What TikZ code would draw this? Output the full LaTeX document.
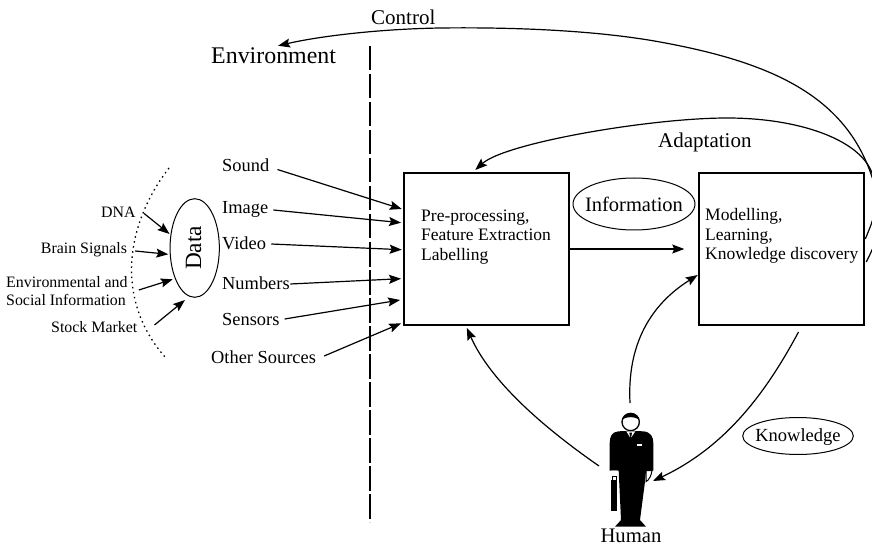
\documentclass[tikz,border=0pt]{standalone}
\usepackage{fontspec}
\setmainfont{Liberation Serif}
\usetikzlibrary{arrows.meta,shapes.geometric}
\tikzset{
	lab/.style={inner sep=0pt,anchor=west,font=\fontsize{18.4}{22}\selectfont},
	srclab/.style={inner sep=0pt,anchor=west,align=left,font=\fontsize{15.9}{18}\selectfont},
	bigbox/.style={draw,line width=2pt,minimum width=164.5pt,minimum height=152pt,inner sep=0pt,outer sep=0pt},
	boxtxt/.style={inner sep=0pt,anchor=west,align=left,font=\fontsize{17.5}{19.2}\selectfont},
	oval/.style={draw,ellipse,line width=1pt,inner sep=0pt,outer sep=0pt},
	arr/.style={line width=1.2pt,-{Stealth[length=12pt,width=9pt,inset=2pt]}},
}
\begin{document}
\begin{tikzpicture}[x=1pt,y=-1pt]
		\useasboundingbox (0,0) rectangle (872,545);
		\clip (0,0) rectangle (872,545);
		
		% Blocos principais
		\node[bigbox] (prep) at (486.3,249) {};
		\node[bigbox] (model) at (781.5,249) {};
		\node[boxtxt] (preptxt) at (421,237) {Pre-processing,\\Feature Extraction\\Labelling};
		\node[boxtxt] (modeltxt) at (705,236) {Modelling,\\Learning,\\Knowledge discovery};
		
		% Elipses
		\node[oval,minimum width=122pt,minimum height=52pt] (info) at (634,204) {};
		\node[inner sep=0pt,font=\fontsize{20.5}{24}\selectfont] (infotxt) at (634,204) {Information};
		\node[oval,minimum width=110.6pt,minimum height=37pt] (know) at (798,436) {};
		\node[inner sep=0pt,font=\fontsize{18.5}{22}\selectfont] (knowtxt) at (798,437.5) {Knowledge};
		\node[oval,minimum width=49.3pt,minimum height=98.6pt] (data) at (194.7,248) {};
		\node[rotate=90,inner sep=0pt,font=\fontsize{23.3}{26}\selectfont] (datatxt) at (193.5,248) {Data};
		
		% Textos soltos
		\node[inner sep=0pt,anchor=west,font=\fontsize{23.9}{26}\selectfont] (env) at (211,56) {Environment};
		\node[inner sep=0pt,anchor=west,font=\fontsize{21}{24}\selectfont] (control) at (371,17) {Control};
		\node[inner sep=0pt,anchor=west,font=\fontsize{21}{24}\selectfont] (adapt) at (658,142.5) {Adaptation};
		\node[inner sep=0pt,font=\fontsize{20.7}{24}\selectfont] (human) at (631,535.5) {Human};
		
		% Fontes
		\node[lab] (sound) at (222,165.5) {Sound};
		\node[lab] (image) at (222,209) {Image};
		\node[lab] (video) at (222,243) {Video};
		\node[lab] (numbers) at (222,283) {Numbers};
		\node[lab] (sensors) at (222,319) {Sensors};
		\node[lab] (other) at (211,357) {Other Sources};
		
		% Dados
		\node[srclab] (dna) at (101,212.7) {DNA};
		\node[srclab] (brain) at (40.7,250) {Brain Signals};
		\node[srclab] (social) at (6,291) {Environmental and\\Social Information};
		\node[srclab] (stock) at (51,327) {Stock Market};
		
		% Fronteira do ambiente
		\coordinate (bordertop) at (370,46);
		\coordinate (borderbot) at (370,522);
		\draw[line width=2.5pt,dash pattern=on 24.5pt off 3.5pt] (bordertop) -- (borderbot);
		
		% Arco pontilhado
		\coordinate (arctop) at (169,168);
		\coordinate (arcbot) at (165,357);
		\draw[line width=1.3pt,dash pattern=on 1.5pt off 3.6pt] (arctop) .. controls (125,225) and (115,300) .. (arcbot);
		
		% Setas das fontes
		\draw[arr] ([shift={(8,4)}]sound.east) -- ([shift={(-2.3,36)}]prep.north west);
		\draw[arr] ([shift={(5,1)}]image.east) -- ([shift={(-3,49.7)}]prep.north west);
		\draw[arr] ([shift={(5,1)}]video.east) -- ([shift={(-2.3,76.7)}]prep.north west);
		\draw[arr] ([shift={(0.5,1)}]numbers.east) -- ([shift={(-3,105.7)}]prep.north west);
		\draw[arr] ([shift={(5,0)}]sensors.east) -- ([shift={(-4,127)}]prep.north west);
		\draw[arr] ([shift={(8,-1)}]other.east) -- ([shift={(-3,150.3)}]prep.north west);
		
		% Setas para os dados
		\draw[arr] ([shift={(8,0.6)}]dna.east) -- ([shift={(-0.5,-14)}]data.west);
		\draw[arr] ([shift={(8,1)}]brain.east) -- ([shift={(-1.7,6.3)}]data.west);
		\draw[arr] ([shift={(11,-1)}]social.east) -- ([shift={(2.7,31.3)}]data.west);
		\draw[arr] ([shift={(17,-2)}]stock.east) -- ([shift={(-9.7,2.7)}]data.south);
		
		% Informacao entre os blocos
		\draw[arr] (prep.east) -- ([xshift=-15pt]model.west);
		
		% Adaptacao e controle
		\draw[arr] ([shift={(1.5,-10)}]model.east) .. controls (880,205) and (880,190) .. (872,173) .. controls (860,140) and (800,118) .. (727,118) .. controls (650,118) and (505,143) .. ([shift={(-11,-3)}]prep.north);
		\draw[arr] ([shift={(2.5,13)}]model.east) .. controls (885,225) and (885,210) .. (872,177) .. controls (845,95) and (770,62) .. (660,42) .. controls (600,31) and (520,27) .. (440,28) .. controls (380,29) and (320,36) .. ([shift={(4.5,-2)}]env.north);
		
		% Homem
		\coordinate (man) at (631,460);
		\begin{scope}[shift={(560,380)},scale=1/3]
			% terno
			\fill (197,153) -- (175,154) .. controls (155,156) and (149,170) .. (149,190) -- (149,272) -- (176,272) -- (183,420) -- (165,440) -- (258,440) -- (240,420) -- (255,305) -- (258,272) -- (280,272) -- (280,190) .. controls (280,170) and (272,156) .. (250,154) -- (228,153) -- cycle;
			% cabeca
			\draw[line width=1.3pt,fill=white] (212,126) circle (26);
			\fill (186,122) .. controls (188,92) and (236,92) .. (238,122) .. controls (232,108) and (192,108) .. (186,122) -- cycle;
			% gola e gravata
			\fill[white] (199,154) -- (210,172) -- (212,160) -- (214,172) -- (226,154) -- cycle;
			\fill (208,158) -- (216,158) -- (214,170) -- (210,170) -- cycle;
			\fill[white] (232,193) rectangle (245,197);
			% maos
			\fill[white] (153,272) -- (172,272) -- (172,290) -- (168,295) -- (156,292) -- cycle;
			\draw[line width=1pt,fill=white] (276,272) .. controls (274,285) and (268,300) .. (258,305) -- (258,272) -- cycle;
			% pasta
			\fill (152,300) rectangle (172,392);
			\draw[line width=1pt] (156,300) -- (156,288) -- (170,288) -- (170,300);
		\end{scope}
		
		% Setas do homem
		\draw[arr] ([shift={(-32,6)}]man) .. controls (540,425) and (490,380) .. ([shift={(-19.5,3)}]prep.south);
		\draw[arr] ([shift={(-1,-57)}]man) .. controls (627,345) and (650,305) .. ([shift={(-1.5,26)}]model.west);
		\draw[arr] ([shift={(17,7)}]model.south) .. controls (770,385) and (730,445) .. ([shift={(22,21)}]man);
		
	\end{tikzpicture}
\end{document}
